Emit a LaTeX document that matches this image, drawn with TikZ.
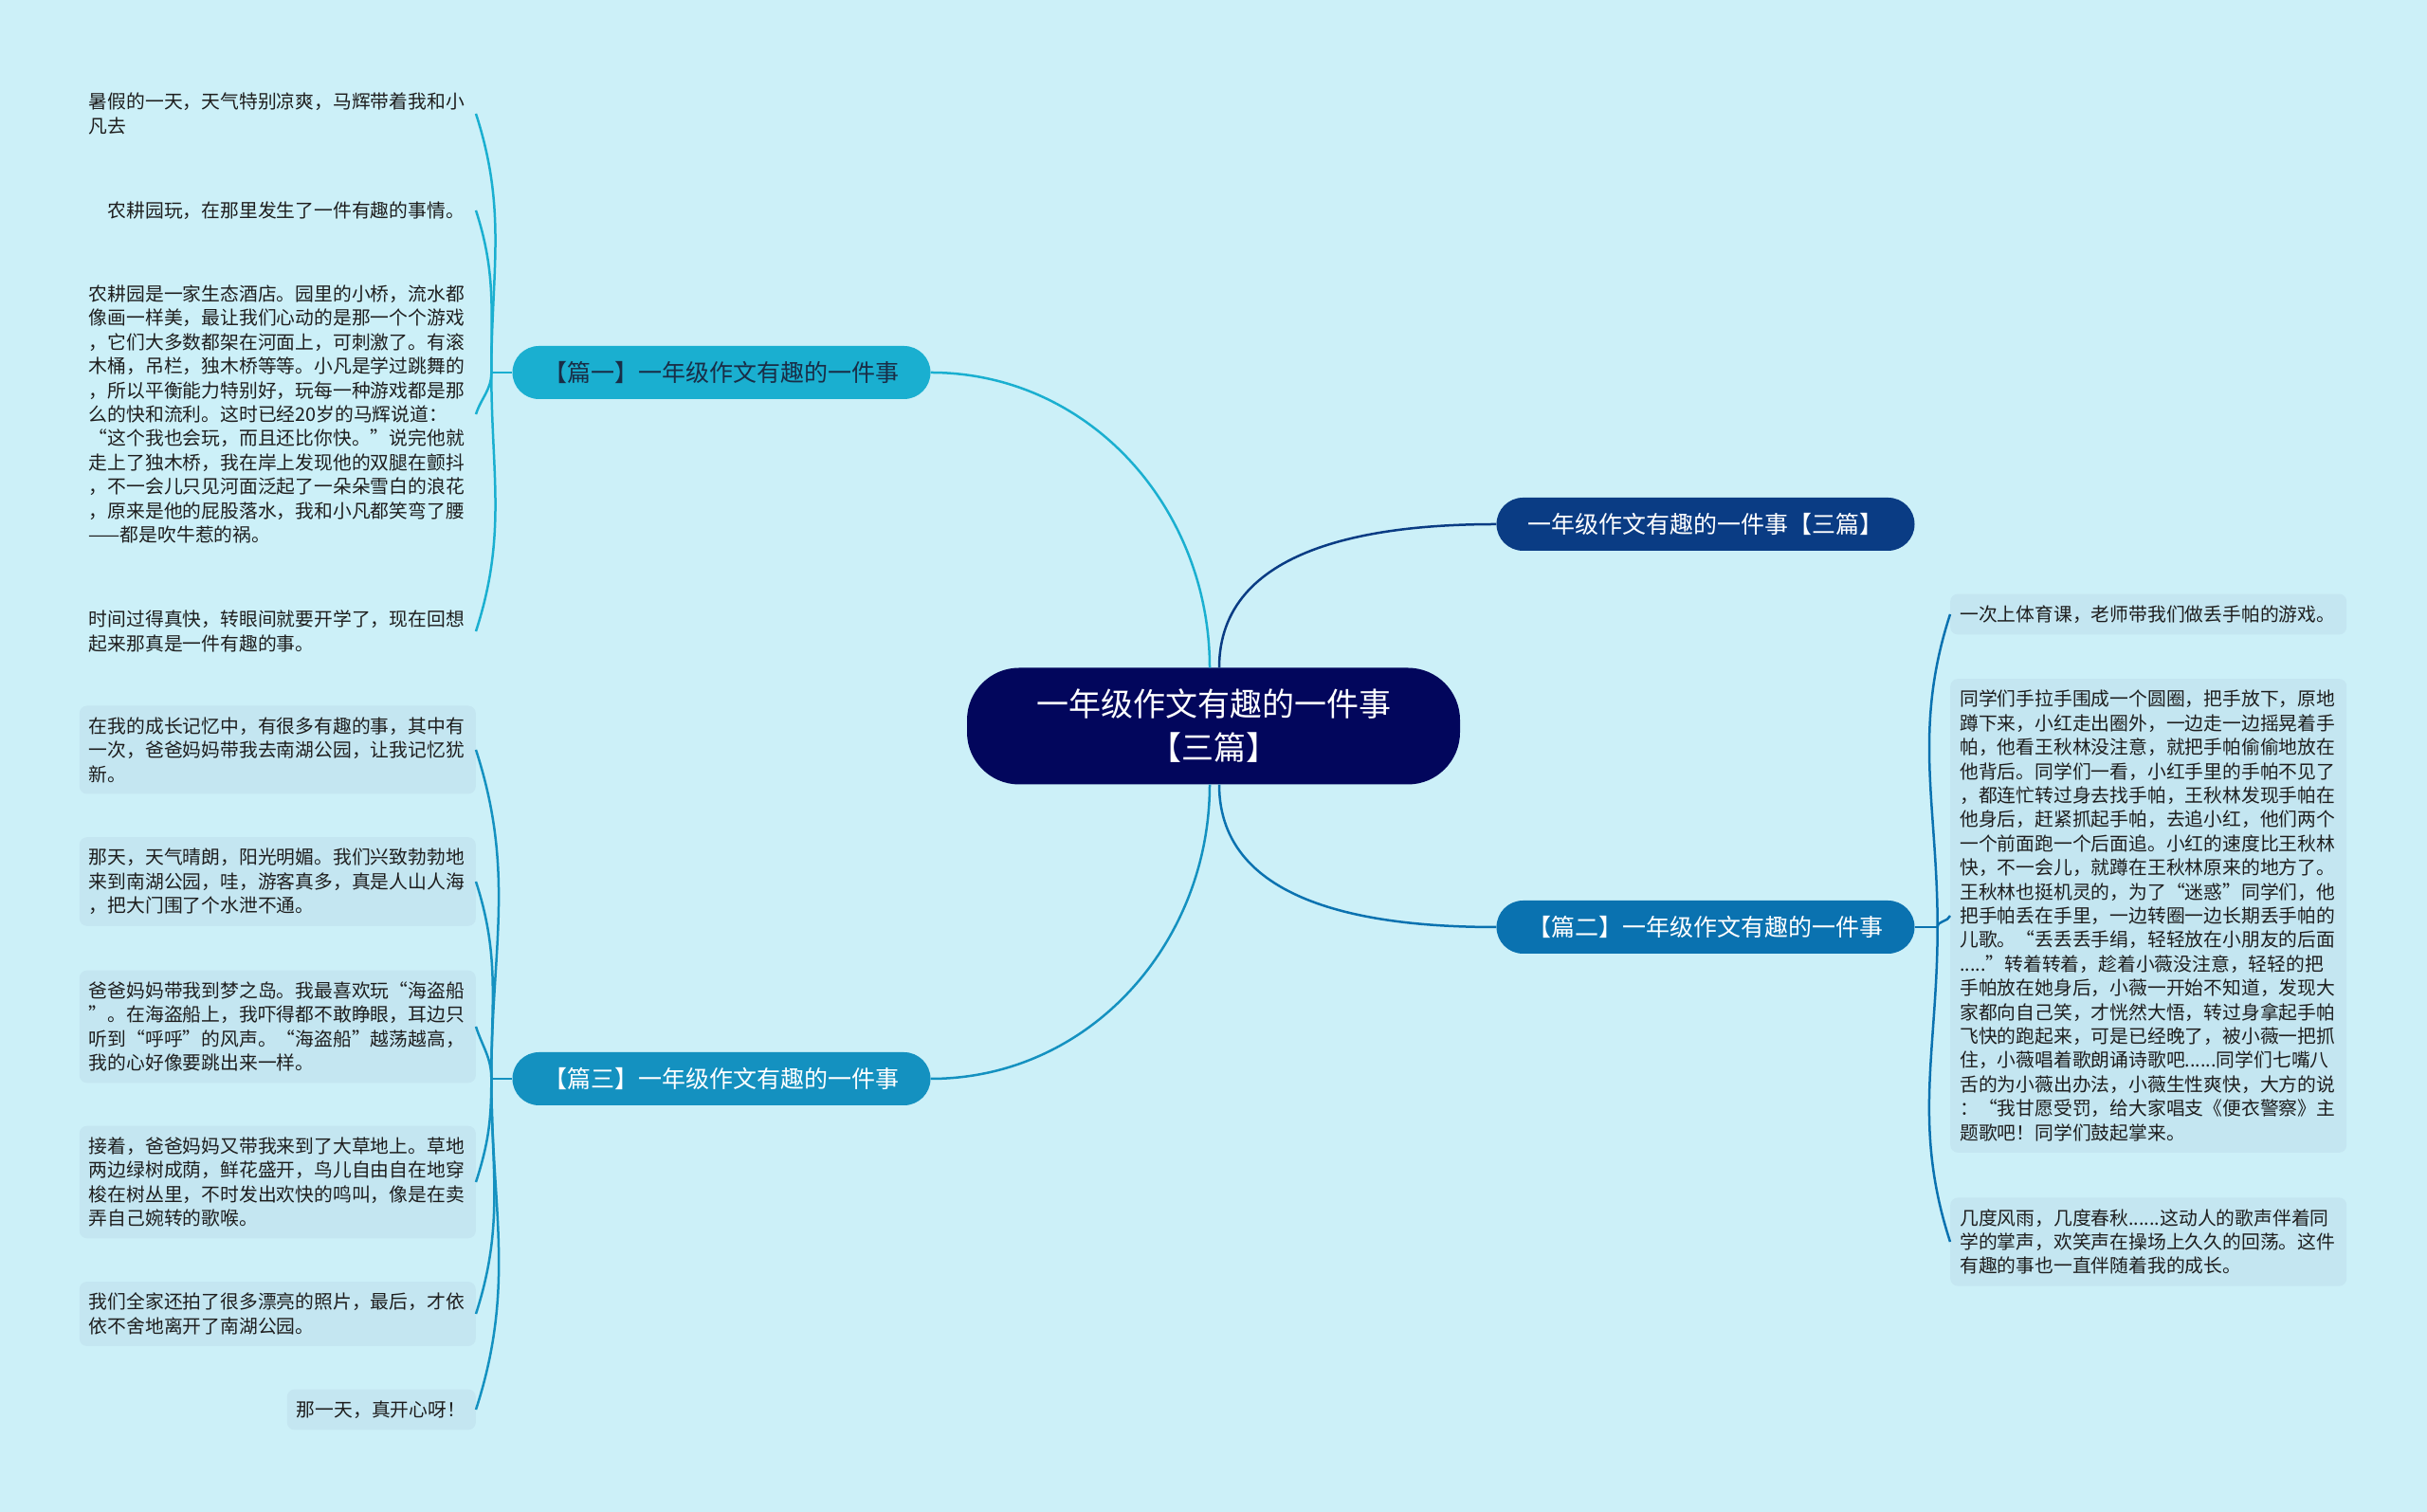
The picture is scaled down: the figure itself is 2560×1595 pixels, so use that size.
\documentclass[tikz,border=0pt]{standalone}
\usepackage{fontspec}
\newfontfamily\cjk{Noto Sans CJK SC}
\usetikzlibrary{positioning}

\definecolor{bgcyan}{RGB}{204,240,248}
\definecolor{rootblue}{RGB}{2,6,92}
\definecolor{titleblue}{RGB}{10,60,132}
\definecolor{pianyi}{RGB}{26,175,208}
\definecolor{pianer}{RGB}{10,114,176}
\definecolor{piansan}{RGB}{20,145,192}
\definecolor{pianyitext}{RGB}{25,45,70}
\definecolor{leafbg}{RGB}{196,230,241}
\definecolor{leaftext}{RGB}{30,30,30}

\begin{document}
\begin{tikzpicture}[
  x=1pt, y=1pt,
  every node/.style={font=\cjk},
  root/.style={fill=rootblue, text=white, rounded corners=55pt, minimum width=520pt, minimum height=123pt, align=center, font=\cjk\fontsize{34}{46}\selectfont},
  branch/.style={rounded corners=28pt, minimum width=441pt, minimum height=56pt, inner sep=0pt, text=white, font=\cjk\fontsize{25}{30}\selectfont},
  leaf/.style={rounded corners=8pt, text width=398pt, align=left, inner xsep=10pt, inner ysep=12pt, text=leaftext, font=\cjk\fontsize{19.8}{25.4}\selectfont},
  link/.style={line width=2.5pt}
]
\useasboundingbox (0,0) rectangle (2560,1595);
\fill[bgcyan] (0,0) rectangle (2560,1595);

% Nodes
\node[root] (center) at (1280,829) {一年级作文有趣的一件事\\【三篇】};
\node[branch, fill=titleblue] (title) at (1799,1042) {一年级作文有趣的一件事【三篇】};
\node[branch, fill=pianyi, text=pianyitext] (pianyi) at (761,1202) {【篇一】一年级作文有趣的一件事};
\node[branch, fill=pianer] (pianer) at (1799,617) {【篇二】一年级作文有趣的一件事};
\node[branch, fill=piansan] (piansan) at (761,457) {【篇三】一年级作文有趣的一件事};

% Leaves of pian yi
\node[leaf, anchor=east] (yiA) at (502,1475) {暑假的一天，天气特别凉爽，马辉带着我和小\\凡去};
\node[leaf, anchor=east] (yiB) at (502,1373) {\hspace*{1em}农耕园玩，在那里发生了一件有趣的事情。};
\node[leaf, anchor=east] (yiC) at (502,1158) {农耕园是一家生态酒店。园里的小桥，流水都\\像画一样美，最让我们心动的是那一个个游戏\\，它们大多数都架在河面上，可刺激了。有滚\\木桶，吊栏，独木桥等等。小凡是学过跳舞的\\，所以平衡能力特别好，玩每一种游戏都是那\\么的快和流利。这时已经20岁的马辉说道：\\“这个我也会玩，而且还比你快。”说完他就\\走上了独木桥，我在岸上发现他的双腿在颤抖\\，不一会儿只见河面泛起了一朵朵雪白的浪花\\，原来是他的屁股落水，我和小凡都笑弯了腰\\——都是吹牛惹的祸。};
\node[leaf, anchor=east] (yiD) at (502,929) {时间过得真快，转眼间就要开学了，现在回想\\起来那真是一件有趣的事。};

% Leaves of pian er
\node[leaf, fill=leafbg, anchor=west] (erA) at (2057,947) {一次上体育课，老师带我们做丢手帕的游戏。};
\node[leaf, fill=leafbg, anchor=west] (erB) at (2057,629) {同学们手拉手围成一个圆圈，把手放下，原地\\蹲下来，小红走出圈外，一边走一边摇晃着手\\帕，他看王秋林没注意，就把手帕偷偷地放在\\他背后。同学们一看，小红手里的手帕不见了\\，都连忙转过身去找手帕，王秋林发现手帕在\\他身后，赶紧抓起手帕，去追小红，他们两个\\一个前面跑一个后面追。小红的速度比王秋林\\快，不一会儿，就蹲在王秋林原来的地方了。\\王秋林也挺机灵的，为了“迷惑”同学们，他\\把手帕丢在手里，一边转圈一边长期丢手帕的\\儿歌。“丢丢丢手绢，轻轻放在小朋友的后面\\.....”转着转着，趁着小薇没注意，轻轻的把\\手帕放在她身后，小薇一开始不知道，发现大\\家都向自己笑，才恍然大悟，转过身拿起手帕\\飞快的跑起来，可是已经晚了，被小薇一把抓\\住，小薇唱着歌朗诵诗歌吧......同学们七嘴八\\舌的为小薇出办法，小薇生性爽快，大方的说\\：“我甘愿受罚，给大家唱支《便衣警察》主\\题歌吧！同学们鼓起掌来。};
\node[leaf, fill=leafbg, anchor=west] (erC) at (2057,285) {几度风雨，几度春秋......这动人的歌声伴着同\\学的掌声，欢笑声在操场上久久的回荡。这件\\有趣的事也一直伴随着我的成长。};

% Leaves of pian san
\node[leaf, fill=leafbg, anchor=east] (sanA) at (502,804) {在我的成长记忆中，有很多有趣的事，其中有\\一次，爸爸妈妈带我去南湖公园，让我记忆犹\\新。};
\node[leaf, fill=leafbg, anchor=east] (sanB) at (502,665) {那天，天气晴朗，阳光明媚。我们兴致勃勃地\\来到南湖公园，哇，游客真多，真是人山人海\\，把大门围了个水泄不通。};
\node[leaf, fill=leafbg, anchor=east] (sanC) at (502,512) {爸爸妈妈带我到梦之岛。我最喜欢玩“海盗船\\”。在海盗船上，我吓得都不敢睁眼，耳边只\\听到“呼呼”的风声。“海盗船”越荡越高，\\我的心好像要跳出来一样。};
\node[leaf, fill=leafbg, anchor=east] (sanD) at (502,348) {接着，爸爸妈妈又带我来到了大草地上。草地\\两边绿树成荫，鲜花盛开，鸟儿自由自在地穿\\梭在树丛里，不时发出欢快的鸣叫，像是在卖\\弄自己婉转的歌喉。};
\node[leaf, fill=leafbg, anchor=east] (sanE) at (502,209) {我们全家还拍了很多漂亮的照片，最后，才依\\依不舍地离开了南湖公园。};
\node[leaf, fill=leafbg, anchor=east, text width=179pt] (sanF) at (502,108) {那一天，真开心呀！};

% Junctions
\coordinate[left=22pt of pianyi] (yiJ);
\coordinate[right=24pt of pianer] (erJ);
\coordinate[left=22pt of piansan] (sanJ);

% Arrows
\draw[link, pianyi] ([xshift=-4pt]center.north) to[out=90, in=0] (pianyi.east);
\draw[link, titleblue] ([xshift=6pt]center.north) to[out=90, in=180] (title.west);
\draw[link, pianer] ([xshift=6pt]center.south) to[out=-90, in=180] (pianer.west);
\draw[link, piansan] ([xshift=-4pt]center.south) to[out=-90, in=0] (piansan.east);

\draw[link, pianyi] (pianyi.west) -- (yiJ);
\foreach \l in {yiA, yiB}
  \draw[link, pianyi] (yiJ) to[out=90, in=-72] (\l.east);
\foreach \l in {yiC, yiD}
  \draw[link, pianyi] (yiJ) to[out=-90, in=72] (\l.east);

\draw[link, pianer] (pianer.east) -- (erJ);
\foreach \l in {erA, erB}
  \draw[link, pianer] (erJ) to[out=90, in=-108] (\l.west);
\draw[link, pianer] (erJ) to[out=-90, in=108] (erC.west);

\draw[link, piansan] (piansan.west) -- (sanJ);
\foreach \l in {sanA, sanB, sanC}
  \draw[link, piansan] (sanJ) to[out=90, in=-72] (\l.east);
\foreach \l in {sanD, sanE, sanF}
  \draw[link, piansan] (sanJ) to[out=-90, in=72] (\l.east);
\end{tikzpicture}
\end{document}
